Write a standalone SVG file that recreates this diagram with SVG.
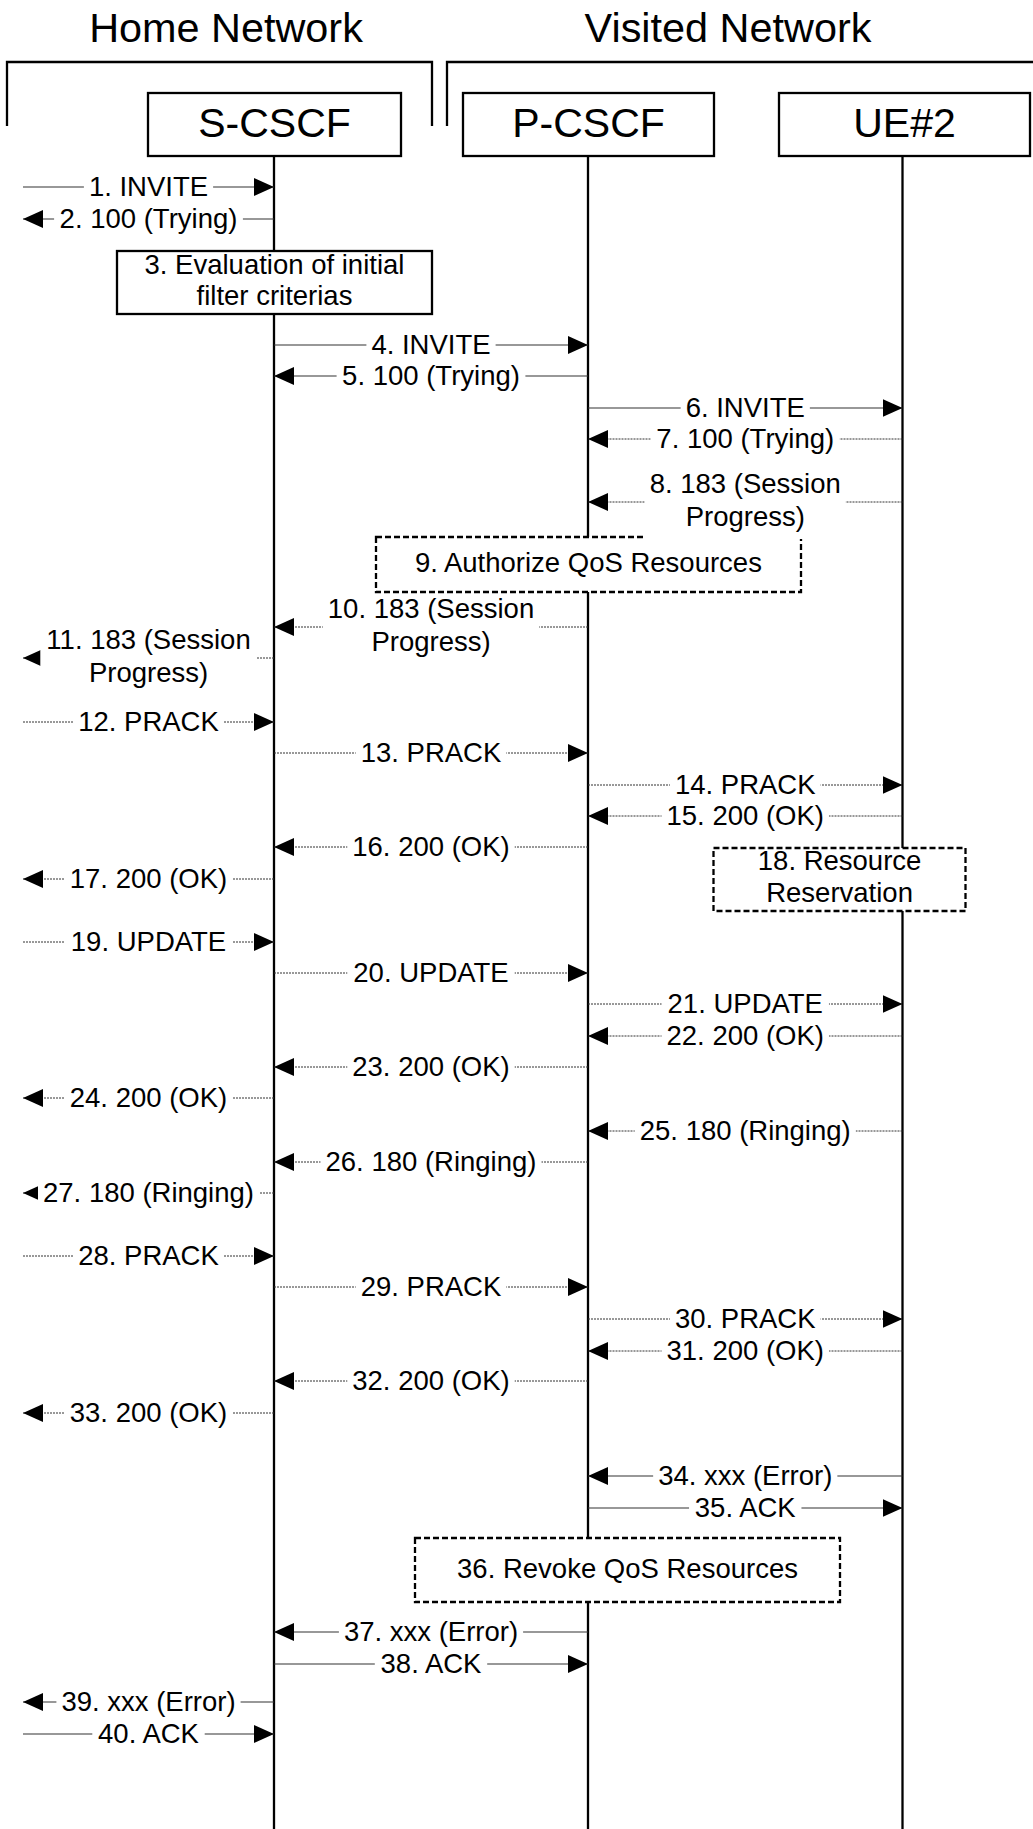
<svg xmlns="http://www.w3.org/2000/svg" width="1033" height="1829" viewBox="0 0 1033 1829">
<defs>
<style>
.t{font-family:"Liberation Sans",Arial,sans-serif;font-size:27.5px;text-anchor:middle;fill:#000}
.h{font-family:"Liberation Sans",Arial,sans-serif;font-size:41px;text-anchor:middle;fill:#000}
.hn{font-family:"Liberation Sans",Arial,sans-serif;font-size:41.4px;text-anchor:middle;fill:#000}
.bg{fill:#fff;stroke:none}
.box{fill:#fff;stroke:#000;stroke-width:2.3}
.dbox{fill:#fff;stroke:#000;stroke-width:2.3;stroke-dasharray:6 3}
.life{stroke:#000;stroke-width:2.3;fill:none}
.br{stroke:#000;stroke-width:2.3;fill:none}
.s{stroke:#333;stroke-width:1.2;fill:none;marker-end:url(#ah)}
.d{stroke:#333;stroke-width:1;stroke-dasharray:2 1;fill:none;marker-end:url(#ah)}
</style>
<marker id="ah" markerUnits="userSpaceOnUse" markerWidth="20" markerHeight="18" refX="20" refY="9" orient="auto" viewBox="0 0 20 18">
<path d="M0,0 L20,9 L0,18 z" fill="#000" stroke="none"/>
</marker>
</defs>
<rect width="1033" height="1829" fill="#fff"/>

<g id="domains">
<text class="hn" x="226" y="42">Home Network</text>
<path class="br" d="M7,126 V62 H432 V126"/>
<text class="hn" x="728" y="42">Visited Network</text>
<path class="br" d="M447,126 V62 H1033"/>
</g>

<g id="node-scscf">
<rect class="box" x="148" y="93" width="253" height="63"/>
<text class="h" x="274.5" y="137">S-CSCF</text>
<line class="life" x1="274" y1="156" x2="274" y2="1829"/>
</g>
<g id="node-pcscf">
<rect class="box" x="463" y="93" width="251" height="63"/>
<text class="h" x="588.5" y="137">P-CSCF</text>
<line class="life" x1="588" y1="156" x2="588" y2="1829"/>
</g>
<g id="node-ue2">
<rect class="box" x="779" y="93" width="251" height="63"/>
<text class="h" x="904.5" y="137">UE#2</text>
<line class="life" x1="902.5" y1="156" x2="902.5" y2="1829"/>
</g>

<g id="step3">
<rect class="box" x="117" y="251" width="315" height="63"/>
<text class="t" x="274.5" y="274">3. Evaluation of initial</text>
<text class="t" x="274.5" y="305">filter criterias</text>
</g>
<g id="step9">
<rect class="dbox" x="376" y="537" width="425" height="55"/>
<text class="t" x="588.4" y="572">9. Authorize QoS Resources</text>
</g>
<g id="step18">
<rect class="dbox" x="713.5" y="848" width="252" height="63"/>
<text class="t" x="839.6" y="870">18. Resource</text>
<text class="t" x="839.6" y="902">Reservation</text>
</g>
<g id="step36">
<rect class="dbox" x="415" y="1538" width="425" height="64"/>
<text class="t" x="627.5" y="1578">36. Revoke QoS Resources</text>
</g>

<g id="connectors">
<g id="m1"><line class="s" x1="23" y1="187" x2="274" y2="187"/><rect class="bg" x="83.9" y="175" width="129.2" height="24"/><text class="t" x="148.5" y="196">1. INVITE</text></g>
<g id="m2"><line class="s" x1="274" y1="219" x2="23" y2="219"/><rect class="bg" x="54.1" y="207" width="188.8" height="24"/><text class="t" x="148.5" y="228">2. 100 (Trying)</text></g>
<g id="m4"><line class="s" x1="274" y1="345" x2="588" y2="345"/><rect class="bg" x="366.4" y="333" width="129.2" height="24"/><text class="t" x="431" y="354">4. INVITE</text></g>
<g id="m5"><line class="s" x1="588" y1="376" x2="274" y2="376"/><rect class="bg" x="336.6" y="364" width="188.8" height="24"/><text class="t" x="431" y="385">5. 100 (Trying)</text></g>
<g id="m6"><line class="s" x1="588" y1="408" x2="902.5" y2="408"/><rect class="bg" x="680.65" y="396" width="129.2" height="24"/><text class="t" x="745.25" y="417">6. INVITE</text></g>
<g id="m7"><line class="d" x1="902.5" y1="439" x2="588" y2="439"/><rect class="bg" x="650.85" y="427" width="188.8" height="24"/><text class="t" x="745.25" y="448">7. 100 (Trying)</text></g>
<g id="m8"><line class="d" x1="902.5" y1="502" x2="588" y2="502"/><rect class="bg" x="644.75" y="469" width="201" height="70"/><text class="t" x="745.25" y="493">8. 183 (Session</text><text class="t" x="745.25" y="525.5">Progress)</text></g>
<g id="m10"><line class="d" x1="588" y1="627" x2="274" y2="627"/><rect class="bg" x="322.8" y="594" width="216.4" height="70"/><text class="t" x="431" y="618">10. 183 (Session</text><text class="t" x="431" y="650.5">Progress)</text></g>
<g id="m11"><line class="d" x1="274" y1="658" x2="23" y2="658"/><rect class="bg" x="40.3" y="625" width="216.4" height="70"/><text class="t" x="148.5" y="649">11. 183 (Session</text><text class="t" x="148.5" y="682">Progress)</text></g>
<g id="m12"><line class="d" x1="23" y1="722" x2="274" y2="722"/><rect class="bg" x="73.2" y="710" width="150.6" height="24"/><text class="t" x="148.5" y="731">12. PRACK</text></g>
<g id="m13"><line class="d" x1="274" y1="753" x2="588" y2="753"/><rect class="bg" x="355.7" y="741" width="150.6" height="24"/><text class="t" x="431" y="762">13. PRACK</text></g>
<g id="m14"><line class="d" x1="588" y1="785" x2="902.5" y2="785"/><rect class="bg" x="669.95" y="773" width="150.6" height="24"/><text class="t" x="745.25" y="794">14. PRACK</text></g>
<g id="m15"><line class="d" x1="902.5" y1="816" x2="588" y2="816"/><rect class="bg" x="661.55" y="804" width="167.4" height="24"/><text class="t" x="745.25" y="825">15. 200 (OK)</text></g>
<g id="m16"><line class="d" x1="588" y1="847" x2="274" y2="847"/><rect class="bg" x="347.3" y="835" width="167.4" height="24"/><text class="t" x="431" y="856">16. 200 (OK)</text></g>
<g id="m17"><line class="d" x1="274" y1="879" x2="23" y2="879"/><rect class="bg" x="64.8" y="867" width="167.4" height="24"/><text class="t" x="148.5" y="888">17. 200 (OK)</text></g>
<g id="m19"><line class="d" x1="23" y1="942" x2="274" y2="942"/><rect class="bg" x="64.8" y="930" width="167.4" height="24"/><text class="t" x="148.5" y="951">19. UPDATE</text></g>
<g id="m20"><line class="d" x1="274" y1="973" x2="588" y2="973"/><rect class="bg" x="347.3" y="961" width="167.4" height="24"/><text class="t" x="431" y="982">20. UPDATE</text></g>
<g id="m21"><line class="d" x1="588" y1="1004" x2="902.5" y2="1004"/><rect class="bg" x="661.55" y="992" width="167.4" height="24"/><text class="t" x="745.25" y="1013">21. UPDATE</text></g>
<g id="m22"><line class="d" x1="902.5" y1="1036" x2="588" y2="1036"/><rect class="bg" x="661.55" y="1024" width="167.4" height="24"/><text class="t" x="745.25" y="1045">22. 200 (OK)</text></g>
<g id="m23"><line class="d" x1="588" y1="1067" x2="274" y2="1067"/><rect class="bg" x="347.3" y="1055" width="167.4" height="24"/><text class="t" x="431" y="1076">23. 200 (OK)</text></g>
<g id="m24"><line class="d" x1="274" y1="1098" x2="23" y2="1098"/><rect class="bg" x="64.8" y="1086" width="167.4" height="24"/><text class="t" x="148.5" y="1107">24. 200 (OK)</text></g>
<g id="m25"><line class="d" x1="902.5" y1="1131" x2="588" y2="1131"/><rect class="bg" x="634.75" y="1119" width="221" height="24"/><text class="t" x="745.25" y="1140">25. 180 (Ringing)</text></g>
<g id="m26"><line class="d" x1="588" y1="1162" x2="274" y2="1162"/><rect class="bg" x="320.5" y="1150" width="221" height="24"/><text class="t" x="431" y="1171">26. 180 (Ringing)</text></g>
<g id="m27"><line class="d" x1="274" y1="1193" x2="23" y2="1193"/><rect class="bg" x="38" y="1181" width="221" height="24"/><text class="t" x="148.5" y="1202">27. 180 (Ringing)</text></g>
<g id="m28"><line class="d" x1="23" y1="1256" x2="274" y2="1256"/><rect class="bg" x="73.2" y="1244" width="150.6" height="24"/><text class="t" x="148.5" y="1265">28. PRACK</text></g>
<g id="m29"><line class="d" x1="274" y1="1287" x2="588" y2="1287"/><rect class="bg" x="355.7" y="1275" width="150.6" height="24"/><text class="t" x="431" y="1296">29. PRACK</text></g>
<g id="m30"><line class="d" x1="588" y1="1319" x2="902.5" y2="1319"/><rect class="bg" x="669.95" y="1307" width="150.6" height="24"/><text class="t" x="745.25" y="1328">30. PRACK</text></g>
<g id="m31"><line class="d" x1="902.5" y1="1351" x2="588" y2="1351"/><rect class="bg" x="661.55" y="1339" width="167.4" height="24"/><text class="t" x="745.25" y="1360">31. 200 (OK)</text></g>
<g id="m32"><line class="d" x1="588" y1="1381" x2="274" y2="1381"/><rect class="bg" x="347.3" y="1369" width="167.4" height="24"/><text class="t" x="431" y="1390">32. 200 (OK)</text></g>
<g id="m33"><line class="d" x1="274" y1="1413" x2="23" y2="1413"/><rect class="bg" x="64.8" y="1401" width="167.4" height="24"/><text class="t" x="148.5" y="1422">33. 200 (OK)</text></g>
<g id="m34"><line class="s" x1="902.5" y1="1476" x2="588" y2="1476"/><rect class="bg" x="653.15" y="1464" width="184.2" height="24"/><text class="t" x="745.25" y="1485">34. xxx (Error)</text></g>
<g id="m35"><line class="s" x1="588" y1="1508" x2="902.5" y2="1508"/><rect class="bg" x="689.05" y="1496" width="112.4" height="24"/><text class="t" x="745.25" y="1517">35. ACK</text></g>
<g id="m37"><line class="s" x1="588" y1="1632" x2="274" y2="1632"/><rect class="bg" x="338.9" y="1620" width="184.2" height="24"/><text class="t" x="431" y="1641">37. xxx (Error)</text></g>
<g id="m38"><line class="s" x1="274" y1="1664" x2="588" y2="1664"/><rect class="bg" x="374.8" y="1652" width="112.4" height="24"/><text class="t" x="431" y="1673">38. ACK</text></g>
<g id="m39"><line class="s" x1="274" y1="1702" x2="23" y2="1702"/><rect class="bg" x="56.4" y="1690" width="184.2" height="24"/><text class="t" x="148.5" y="1711">39. xxx (Error)</text></g>
<g id="m40"><line class="s" x1="23" y1="1734" x2="274" y2="1734"/><rect class="bg" x="92.3" y="1722" width="112.4" height="24"/><text class="t" x="148.5" y="1743">40. ACK</text></g>
</g>
</svg>
